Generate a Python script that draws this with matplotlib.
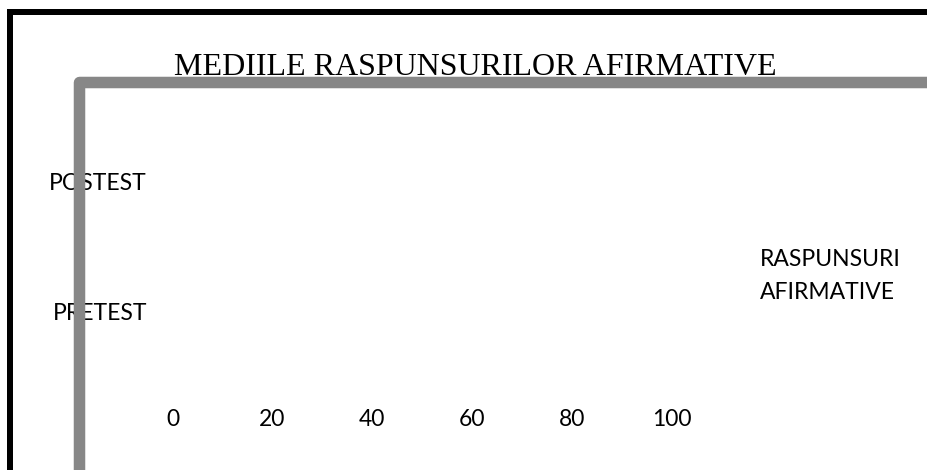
import matplotlib
matplotlib.use("Agg")
import matplotlib.pyplot as plt
from matplotlib.lines import Line2D

# ---- data ----
categories = ["PRETEST", "POSTEST"]
# No bars are visible in the reference picture, so the values drawn are zero.
values = [0, 0]
series_name = "RASPUNSURI\nAFIRMATIVE"
x_ticks = [0, 20, 40, 60, 80, 100]
title = "MEDIILE RASPUNSURILOR AFIRMATIVE"

W, H = 928, 470
DPI = 100
fig = plt.figure(figsize=(W / DPI, H / DPI), dpi=DPI)
fig.patch.set_facecolor("white")

def fx(px):
    return px / W

def fy(py):
    return 1 - py / H

label_font = "Lato"
fs = 16.5

# axes: x 0..100 mapped to 172.5..672 px; categories at 311 / 181 px
left, right = 172.5, 672.0
top, bottom = 116.0, 376.0
ax = fig.add_axes([fx(left), fy(bottom), (right - left) / W, (bottom - top) / H])
ax.set_facecolor("none")
ax.barh(range(len(categories)), values, height=0.5, color="white", label=series_name)
ax.set_xlim(0, 100)
ax.set_ylim(-0.5, len(categories) - 0.5)
ax.set_xticks(x_ticks)
ax.set_xticklabels([str(t) for t in x_ticks], fontfamily=label_font, fontsize=fs)
ax.set_yticks(range(len(categories)))
ax.set_yticklabels(categories, fontfamily=label_font, fontsize=fs)
ax.tick_params(axis="both", length=0, colors="black")
ax.tick_params(axis="x", pad=24)
ax.tick_params(axis="y", pad=18.4)
for s in ax.spines.values():
    s.set_visible(False)

leg = ax.legend(loc="upper left", bbox_to_anchor=(fx(760), fy(249)),
                bbox_transform=fig.transFigure, frameon=False,
                handlelength=0, handletextpad=0, borderpad=0, borderaxespad=0,
                prop={"family": label_font, "size": fs})
for t in leg.get_texts():
    t.set_linespacing(1.7)
for h in leg.legend_handles:
    h.set_visible(False)

# title
fig.text(fx(475), fy(75), title, ha="center", va="baseline",
         fontfamily="Liberation Serif", fontsize=23, color="black")

# outer black border (left and top)
fig.add_artist(Line2D([fx(10), fx(10), fx(W + 10)], [fy(H + 10), fy(12), fy(12)],
                      transform=fig.transFigure, color="black", linewidth=6 * 72 / DPI,
                      solid_joinstyle="miter", zorder=10))
# gray plot frame (left and top), drawn over the labels
fig.add_artist(Line2D([fx(79), fx(79), fx(W + 10)], [fy(H + 10), fy(81.5), fy(81.5)],
                      transform=fig.transFigure, color="#878787", linewidth=11.5 * 72 / DPI,
                      solid_joinstyle="round", zorder=10))

fig.savefig("out.png", dpi=DPI)
